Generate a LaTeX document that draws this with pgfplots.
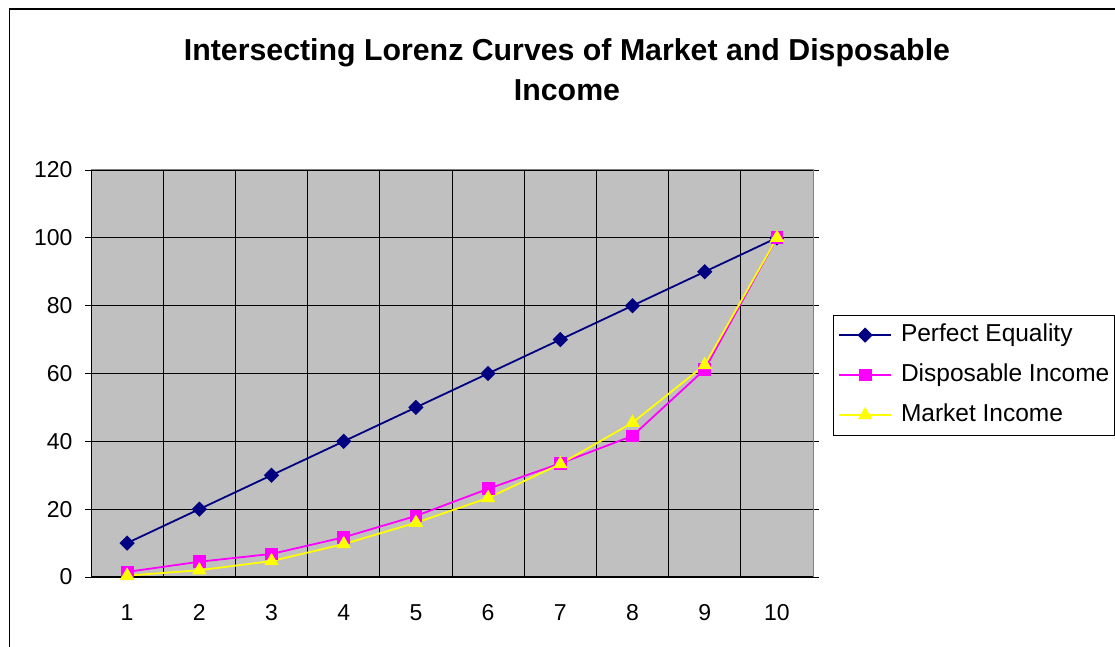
\documentclass[border=0pt]{standalone}
\usepackage{pgfplots}
\pgfplotsset{compat=1.18}
\usepackage{fontspec}
\setmainfont{Liberation Sans}
\definecolor{navyc}{RGB}{0,0,128}
\definecolor{magc}{RGB}{255,0,255}
\definecolor{yelc}{RGB}{255,255,0}
\definecolor{silverc}{RGB}{192,192,192}
\definecolor{borderc}{RGB}{128,128,128}
\begin{document}
\begin{tikzpicture}
\useasboundingbox (0pt,0pt) rectangle (1115pt,647pt);
\fill[white] (0pt,0pt) rectangle (1115pt,647pt);
\draw[line width=1.5pt] (9.5pt,-2pt) -- (9.5pt,638pt) -- (1117pt,638pt);
\node[font=\fontsize{30.3}{40}\selectfont\bfseries, align=center] at (567pt,577pt) {Intersecting Lorenz Curves of Market and Disposable\\Income};
\begin{axis}[
  at={(91pt,70pt)}, anchor=south west, scale only axis, width=722pt, height=407pt,
  xmin=0.5, xmax=10.5, ymin=0, ymax=120,
  xtick={1,...,10}, minor xtick={0.5,1.5,...,10.5},
  ytick={0,20,...,120},
  xmajorgrids=false, xminorgrids=true, ymajorgrids=true,
  grid style={black, line width=0.9pt},
  minor grid style={black, line width=0.9pt},
  axis background/.style={fill=silverc},
  axis line style={borderc, line width=1pt},
  tick align=outside, major tick length=6pt, minor tick length=6pt,
  xtick style={draw=none}, minor x tick style={black, line width=0.9pt}, ytick style={black, line width=0.9pt},
  /pgf/number format/assume math mode=true,
  ticklabel style={font=\fontsize{23}{27}\selectfont},
  xticklabel style={yshift=-18pt},
  yticklabel style={xshift=-9pt},
  legend style={at={(1.0277,0.644)}, anchor=north west, draw=black,
    font=\fontsize{24.5}{28}\selectfont, row sep=17pt, column sep=9pt, inner xsep=5pt, inner ysep=8.5pt,
    nodes={inner sep=0pt, text depth=5pt, text height=18pt}},
  legend cell align=left,
  legend image code/.code={\draw[mark repeat=2,mark phase=2,#1] plot coordinates {(0pt,0pt) (26pt,0pt) (52pt,0pt)};},
]
\addplot[navyc, line width=1.8pt, mark=square*, mark size=4.5pt, mark options={rotate=45, solid, fill=navyc}] coordinates {
(1,10) (2,20) (3,30) (4,40) (5,50) (6,60) (7,70) (8,80) (9,90) (10,100)};
\addlegendentry{Perfect Equality}
\addplot[magc, line width=1.8pt, mark=square*, mark size=5.5pt, mark options={solid, fill=magc}] coordinates {
(1,1.5) (2,4.5) (3,6.8) (4,11.7) (5,18) (6,26) (7,33.5) (8,41.6) (9,61.2) (10,100)};
\addlegendentry{Disposable Income}
\addplot[yelc, line width=1.8pt, mark=triangle*, mark size=6.5pt, mark options={solid, fill=yelc}] coordinates {
(1,0.4) (2,2) (3,4.7) (4,9.7) (5,16) (6,23.3) (7,33.3) (8,45.5) (9,62.5) (10,100)};
\addlegendentry{Market Income}
\draw[black, line width=1.1pt] (rel axis cs:0,1) -- (rel axis cs:0,0) -- (rel axis cs:1,0);
\end{axis}
\end{tikzpicture}
\end{document}
